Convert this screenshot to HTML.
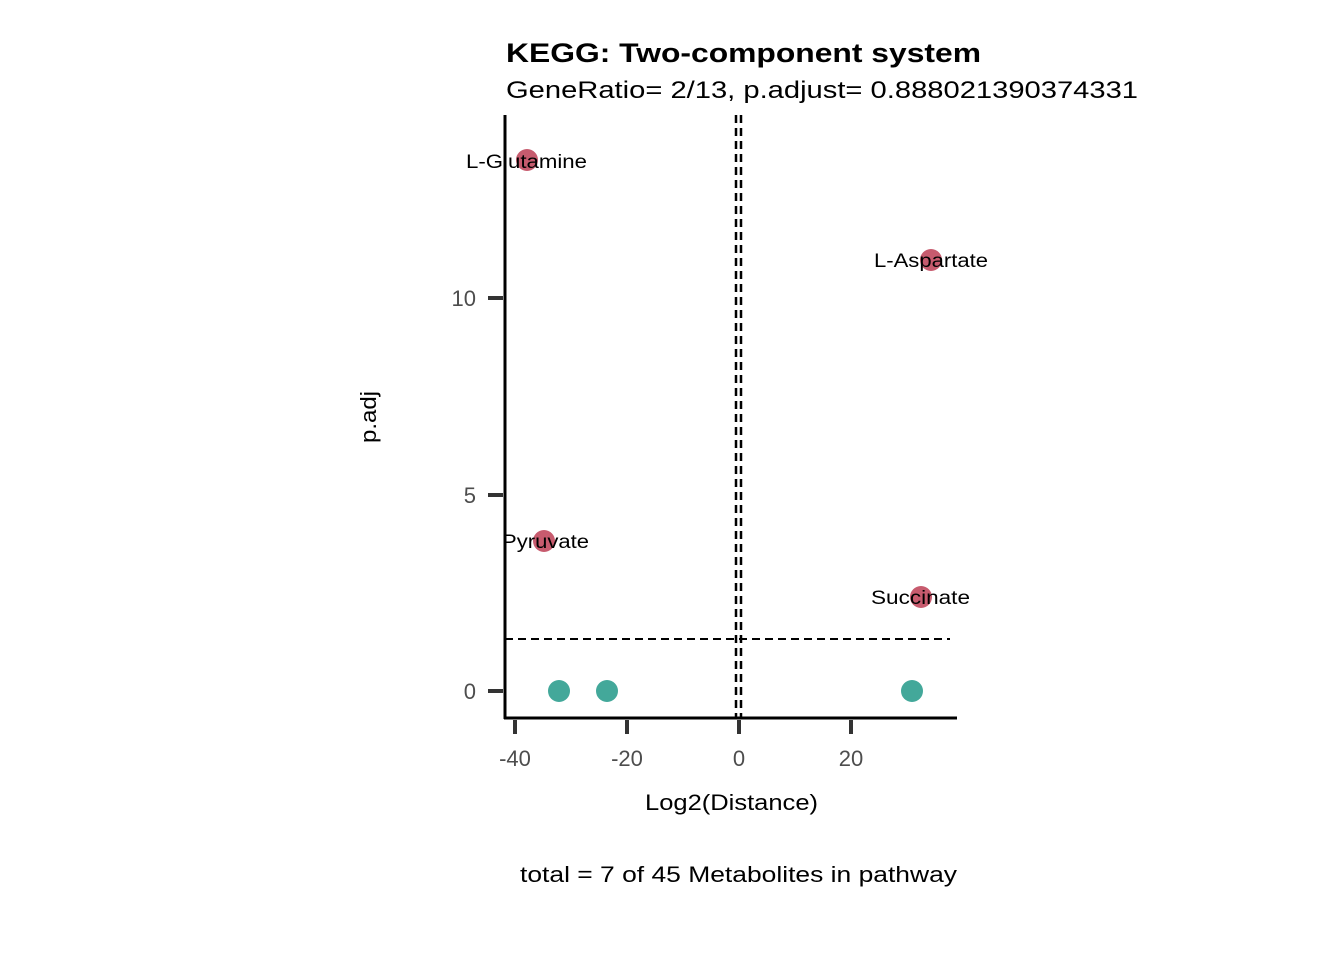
<!DOCTYPE html>
<html><head><style>body{margin:0;background:#fff}</style></head><body>
<svg width="1344" height="960" xmlns="http://www.w3.org/2000/svg" font-family="Liberation Sans, sans-serif">
<rect width="1344" height="960" fill="#fff"/>
<text x="506" y="62" font-size="27" font-weight="bold" textLength="475" lengthAdjust="spacingAndGlyphs">KEGG: Two-component system</text>
<text x="506" y="98" font-size="24" textLength="632" lengthAdjust="spacingAndGlyphs">GeneRatio= 2/13, p.adjust= 0.888021390374331</text>
<line x1="736" y1="115" x2="736" y2="718" stroke="#000" stroke-width="2.5" stroke-dasharray="8,5"/>
<line x1="741" y1="115" x2="741" y2="718" stroke="#000" stroke-width="2.5" stroke-dasharray="8,5"/>
<line x1="505" y1="639" x2="950" y2="639" stroke="#000" stroke-width="2" stroke-dasharray="8,5"/>
<line x1="505" y1="115" x2="505" y2="719" stroke="#000" stroke-width="3"/>
<line x1="504" y1="718" x2="957" y2="718" stroke="#000" stroke-width="3"/>
<g stroke="#333" stroke-width="4">
<line x1="488" y1="691" x2="503" y2="691"/><line x1="488" y1="495" x2="503" y2="495"/><line x1="488" y1="298" x2="503" y2="298"/>
<line x1="515" y1="720" x2="515" y2="734"/><line x1="627" y1="720" x2="627" y2="734"/><line x1="739" y1="720" x2="739" y2="734"/><line x1="851" y1="720" x2="851" y2="734"/>
</g>
<g font-size="22" fill="#4d4d4d">
<text x="476" y="699" text-anchor="end">0</text><text x="476" y="503" text-anchor="end">5</text><text x="476" y="306" text-anchor="end">10</text>
<text x="515" y="766" text-anchor="middle">-40</text><text x="627" y="766" text-anchor="middle">-20</text><text x="739" y="766" text-anchor="middle">0</text><text x="851" y="766" text-anchor="middle">20</text>
</g>
<text x="645" y="810" font-size="22" textLength="173" lengthAdjust="spacingAndGlyphs">Log2(Distance)</text>
<text x="0" y="0" font-size="22" textLength="52" lengthAdjust="spacingAndGlyphs" transform="translate(376 443) rotate(-90)">p.adj</text>
<text x="520" y="882" font-size="22" textLength="437" lengthAdjust="spacingAndGlyphs">total = 7 of 45 Metabolites in pathway</text>
<g fill="#C75B6E">
<circle cx="527" cy="160" r="11"/><circle cx="931" cy="260" r="11"/><circle cx="544" cy="541" r="11"/><circle cx="921" cy="597" r="11"/>
</g>
<g fill="#43A89A">
<circle cx="559" cy="691" r="11"/><circle cx="607" cy="691" r="11"/><circle cx="912" cy="691" r="11"/>
</g>
<g font-size="19">
<text x="466" y="168" textLength="121" lengthAdjust="spacingAndGlyphs">L-Glutamine</text>
<text x="874" y="267" textLength="114" lengthAdjust="spacingAndGlyphs">L-Aspartate</text>
<text x="502" y="548" textLength="87" lengthAdjust="spacingAndGlyphs">Pyruvate</text>
<text x="871" y="604" textLength="99" lengthAdjust="spacingAndGlyphs">Succinate</text>
</g>
</svg>
</body></html>
